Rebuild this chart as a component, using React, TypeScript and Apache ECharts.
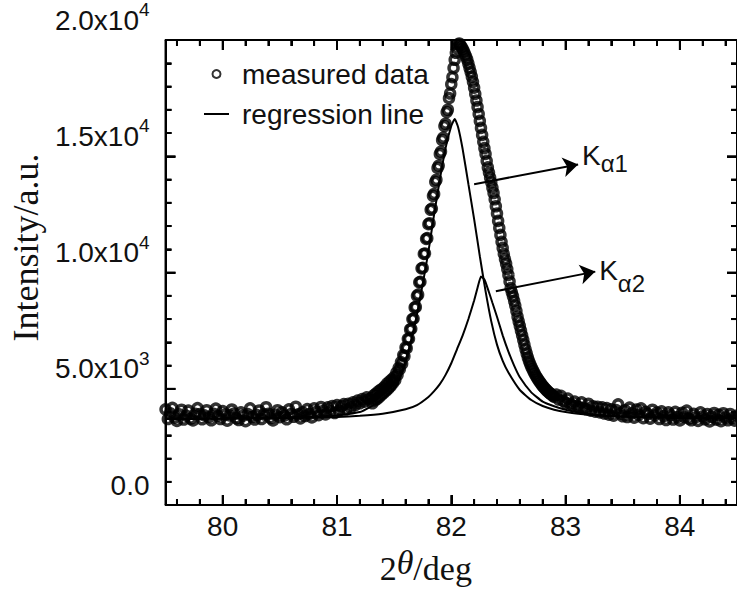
import React, { useEffect, useRef } from 'react';
import * as echarts from 'echarts';

// ---- measured data (sampled: left baseline 0.02 step, peak 0.01 step, right baseline 0.02 step)
const leftStart = 79.5;
const leftStep = 0.02;
const measuredLeft = [
  4120, 3700, 3950, 4180, 3760, 3620, 3900, 4100, 3680, 3850,
  4060, 3720, 3640, 3930, 4170, 3910, 3690, 3860, 4080, 3780,
  3650, 3930, 4150, 3840, 3700, 4040, 3890, 3630, 3860, 4110,
  3940, 3730, 3660, 3990, 3850, 3610, 3910, 4160, 3790, 3680,
  3870, 4070, 3700, 3900, 4210, 3930, 3740, 3640, 3890, 4080,
  3780, 3990, 3850, 3690, 4120, 3920, 3800, 4230, 3900, 3730,
  3990, 3830, 4130, 3920, 3770, 4160, 4010, 3870, 4220, 4050,
  3900, 4200, 4040, 4260, 3960, 4300, 4060, 4250, 4340, 4110,
  4360, 4200, 4420, 4300, 4490, 4380, 4560, 4450, 4630, 4540,
];
const peakStart = 81.3;
const peakStep = 0.01;
const measuredPeak = [
  4600, 4380, 4720, 4500, 4790, 4560, 4880, 4650, 4950, 4740,
  5020, 4830, 5110, 4920, 5230, 5010, 5320, 5120, 5400, 5250,
  5500, 5380, 5700, 5600, 5900, 5850, 6150, 6080, 6450, 6400,
  6780, 6750, 7150, 7150, 7550, 7580, 8000, 8020, 8500, 8520,
  9000, 9050, 9580, 9600, 10180, 10200, 10800, 10820, 11450, 11480,
  12080, 12120, 12700, 12750, 13300, 13380, 13900, 13990, 14500, 14600,
  15100, 15200, 15700, 15800, 16300, 16400, 16900, 17000, 17500, 17700,
  18100, 18400, 18800, 19150, 19450, 19650, 19800, 19850, 19780, 19700,
  19620, 19520, 19400, 19280, 19150, 18980, 18800, 18620, 18420, 18200,
  17950, 17680, 17400, 17120, 16820, 16520, 16220, 15920, 15620, 15350,
  15100, 14800, 14520, 14300, 14080, 13880, 13650, 13420, 13150, 12850,
  12540, 12220, 11920, 11620, 11320, 11060, 10800, 10580, 10380, 10150,
  9900, 9620, 9330, 9150, 8980, 8780, 8580, 8350, 8100, 7900,
  7700, 7500, 7300, 7100, 6900, 6700, 6520, 6350, 6200, 6070,
  5950, 5850, 5750, 5650, 5560, 5480, 5400, 5330, 5260, 5190,
  5120, 5070, 5010, 4960, 4910, 4860, 4820, 4780, 4740, 4700,
  4660,
];
const rightStart = 82.92;
const rightStep = 0.02;
const measuredRight = [
  4750, 4540, 4700, 4480, 4400, 4580, 4360, 4290, 4450, 4270,
  4200, 4420, 4180, 4120, 4360, 4060, 4250, 4020, 4230, 3990,
  4200, 3940, 4170, 3890, 4120, 3850, 4090, 4330, 3930, 3820,
  4080, 3790, 4190, 3950, 3760, 4110, 3880, 4160, 3740, 4010,
  3920, 3720, 4100, 3860, 3980, 3700, 4030, 3830, 3660, 3990,
  3860, 3680, 4010, 3790, 3640, 3970, 3780, 4060, 3720, 3650,
  3930, 3780, 3620, 3990, 3820, 3690, 3920, 3600, 3800, 3960,
  3680, 3880, 3610, 3950, 3770, 3650, 3920, 3740, 3630, 3850,
];

// ---- regression components
const ka1X = [79.5, 80.0, 80.5, 81.0, 81.2, 81.3, 81.4, 81.5, 81.55, 81.6, 81.65, 81.7, 81.75, 81.8, 81.85, 81.9, 81.95, 82.0, 82.03, 82.06, 82.1, 82.15, 82.2, 82.25, 82.3, 82.35, 82.4, 82.45, 82.5, 82.6, 82.7, 82.8, 82.9, 83.0, 83.2, 83.5, 84.0, 84.5];
const ka1Y = [3720, 3730, 3760, 3850, 4000, 4250, 4550, 5000, 5450, 6200, 7100, 8200, 9500, 10900, 12500, 14000, 15350, 16300, 16600, 16250, 15300, 13800, 12300, 10700, 9200, 7900, 6900, 6200, 5700, 4950, 4520, 4260, 4100, 4000, 3880, 3800, 3750, 3730];
const ka2X = [79.5, 80.0, 80.5, 81.0, 81.2, 81.4, 81.6, 81.7, 81.8, 81.85, 81.9, 81.95, 82.0, 82.05, 82.1, 82.15, 82.2, 82.23, 82.26, 82.29, 82.32, 82.36, 82.4, 82.45, 82.5, 82.55, 82.6, 82.7, 82.8, 82.9, 83.0, 83.2, 83.5, 84.0, 84.5];
const ka2Y = [3700, 3710, 3730, 3790, 3840, 3930, 4120, 4300, 4650, 4900, 5200, 5600, 6100, 6700, 7300, 8000, 8800, 9350, 9830, 9700, 9300, 8700, 8100, 7300, 6600, 6000, 5500, 4850, 4450, 4250, 4100, 3920, 3820, 3760, 3740];

// ---- annotation arrows (data coordinates)
const arrowFrom = [[82.2, 13800], [82.39, 9200]];
const arrowTo = [[83.11, 14650], [83.26, 10040]];
const arrowSub = ['α1', 'α2'];

// ---- axes
const xMin = 79.5;
const xMax = 84.5;
const yMin = 0;
const yMax = 20000;
const xMajorTicks = [80, 81, 82, 83, 84];
const yTickValues = [0, 5000, 10000, 15000, 20000];
const yTickMantissa = ['0.0', '5.0x10', '1.0x10', '1.5x10', '2.0x10'];
const yTickExponent = ['', '3', '4', '4', '4'];
const xMinorStep = 0.2;
const yMinorStep = 1000;

const SANS = '"Liberation Sans", Arial, sans-serif';
const SERIF = '"Liberation Serif", "Times New Roman", serif';
const INK = '#111';

function toPairs(start: number, step: number, vals: number[]) {
  return vals.map((v, i) => [Math.round((start + i * step) * 100) / 100, v]);
}

const mkLine = () => ({ show: true, onZero: false, lineStyle: { color: '#000', width: 2 } });
const mkTick = () => ({ show: true, inside: true, length: 10, lineStyle: { color: '#000', width: 2 } });
const mkMinor = () => ({ show: true, splitNumber: 5, length: 6, lineStyle: { color: '#000', width: 2 } });

export default function App() {
  const ref = useRef<HTMLDivElement>(null);
  useEffect(() => {
    if (!ref.current) return;
    const chart = echarts.init(ref.current, null, { renderer: 'svg' });
    const measured = [
      ...toPairs(leftStart, leftStep, measuredLeft),
      ...toPairs(peakStart, peakStep, measuredPeak),
      ...toPairs(rightStart, rightStep, measuredRight),
    ];
    const ka1 = ka1X.map((x, i) => [x, ka1Y[i]]);
    const ka2 = ka2X.map((x, i) => [x, ka2Y[i]]);

    // tick positions for the boxed frame (values on the axes' scales)
    const xTicks: number[][] = [];
    for (let k = Math.ceil(xMin / xMinorStep + 1e-6); k * xMinorStep < xMax - 1e-6; k++) {
      const v = Math.round(k * xMinorStep * 100) / 100;
      xTicks.push([v, xMajorTicks.indexOf(v) >= 0 ? 10 : 6]);
    }
    const yTicks: number[][] = [];
    for (let v = yMin + yMinorStep; v < yMax; v += yMinorStep) {
      yTicks.push([v, yTickValues.indexOf(v) >= 0 ? 10 : 6]);
    }

    chart.setOption({
      animation: false,
      backgroundColor: '#fff',
      grid: { left: 164, top: 33, width: 577, height: 482 },
      legend: {
        data: [
          { name: 'measured data', icon: 'circle' },
          { name: 'regression line', itemStyle: { opacity: 0 } },
        ],
        orient: 'vertical',
        left: 198,
        top: 55,
        itemWidth: 25,
        itemHeight: 8,
        itemGap: 12,
        selectedMode: false,
        textStyle: { fontSize: 28, fontFamily: SANS, color: INK, padding: [0, 0, 0, 8] },
      },
      xAxis: [
        {
          type: 'value', min: xMin, max: xMax, splitNumber: 5, position: 'bottom',
          axisLine: mkLine(), axisTick: mkTick(), minorTick: mkMinor(), splitLine: { show: false },
          axisLabel: { show: true, fontSize: 28, fontFamily: SANS, color: INK, margin: 7, showMinLabel: false, showMaxLabel: false },
          name: '{n|2}{t|θ}{n|/deg}',
          nameLocation: 'middle',
          nameGap: 28,
          nameTextStyle: {
            padding: [0, 51, 0, 0],
            rich: {
              n: { fontSize: 34, lineHeight: 46, fontFamily: SERIF, color: INK },
              t: { fontSize: 34, lineHeight: 34, fontFamily: SERIF, fontStyle: 'italic', color: INK, verticalAlign: 'top' },
            },
          },
        },
        {
          type: 'value', min: xMin, max: xMax, splitNumber: 5, position: 'top',
          axisLine: mkLine(), axisTick: mkTick(), minorTick: mkMinor(), splitLine: { show: false },
          axisLabel: { show: false },
        },
      ],
      yAxis: [
        {
          type: 'value', min: yMin, max: yMax, interval: 5000, position: 'left',
          axisLine: mkLine(), axisTick: mkTick(), minorTick: mkMinor(), splitLine: { show: false },
          axisLabel: {
            margin: 16,
            verticalAlign: 'bottom',
            formatter: (v: number) => {
              const i = yTickValues.indexOf(v);
              if (i < 0) return '';
              return yTickExponent[i] ? `{m|${yTickMantissa[i]}}{s|${yTickExponent[i]}}` : `{m|${yTickMantissa[i]}}`;
            },
            rich: {
              m: { fontSize: 28, lineHeight: 40, fontFamily: SANS, color: INK },
              s: { fontSize: 19, lineHeight: 19, fontFamily: SANS, color: INK, verticalAlign: 'top' },
            },
          },
          name: 'Intensity/a.u.',
          nameLocation: 'middle',
          nameGap: 112,
          nameTextStyle: { fontSize: 36, fontFamily: SERIF, color: INK, padding: [0, 0, 0, 50] },
        },
        {
          type: 'value', min: yMin, max: yMax, interval: 5000, position: 'right',
          axisLine: mkLine(), axisTick: mkTick(), minorTick: mkMinor(), splitLine: { show: false },
          axisLabel: { show: false },
        },
      ],
      series: [
        {
          name: 'measured data',
          type: 'scatter',
          data: measured,
          symbol: 'circle',
          symbolSize: 9,
          itemStyle: { color: 'rgba(0,0,0,0)', borderColor: '#000', borderWidth: 3.5 },
        },
        {
          name: 'regression line',
          type: 'line',
          data: ka1,
          symbol: 'none',
          smooth: 0.15,
          itemStyle: { color: '#000' },
          lineStyle: { color: '#000', width: 2 },
          markLine: {
            silent: true,
            symbol: ['none', 'arrow'],
            symbolSize: 15,
            lineStyle: { color: '#000', width: 2, type: 'solid' },
            label: {
              show: true,
              position: 'end',
              distance: 4,
              formatter: (p: any) => `{k${p.dataIndex}|K}{s${p.dataIndex}|${p.name}}`,
              rich: {
                k0: { fontSize: 28, lineHeight: 28, fontFamily: SANS, color: INK, verticalAlign: 'top' },
                s0: { fontSize: 24, lineHeight: 44, fontFamily: SANS, color: INK },
                k1: { fontSize: 28, lineHeight: 49, fontFamily: SANS, color: INK },
                s1: { fontSize: 24, lineHeight: 24, fontFamily: SANS, color: INK, verticalAlign: 'bottom' },
              },
            },
            data: arrowFrom.map((f, i) => [
              { name: arrowSub[i], coord: f },
              { coord: arrowTo[i] },
            ]),
          },
        },
        {
          name: 'regression line',
          type: 'line',
          data: ka2,
          symbol: 'none',
          smooth: 0.15,
          itemStyle: { color: '#000' },
          lineStyle: { color: '#000', width: 2 },
        },
        {
          name: 'frame',
          type: 'custom',
          silent: true,
          clip: false,
          z: 10,
          data: [[xMin, yMin]],
          renderItem: (_params: any, api: any) => {
            const c = (x: number, y: number) => api.coord([x, y]);
            const seg = (a: number[], b: number[]) => ({
              type: 'line',
              shape: { x1: a[0], y1: a[1], x2: b[0], y2: b[1] },
              style: { stroke: '#000', lineWidth: 2 },
            });
            const bl = c(xMin, yMin);
            const tr = c(xMax, yMax);
            const kids: any[] = [
              seg([bl[0], tr[1]], [tr[0], tr[1]]),
              seg([tr[0], bl[1]], [tr[0], tr[1]]),
              seg([bl[0], bl[1]], [tr[0], bl[1]]),
              seg([bl[0], bl[1]], [bl[0], tr[1]]),
            ];
            xTicks.forEach(([x, len]) => {
              const px = c(x, yMin)[0];
              kids.push(seg([px, bl[1]], [px, bl[1] - len]));
              kids.push(seg([px, tr[1]], [px, tr[1] + len]));
            });
            yTicks.forEach(([y, len]) => {
              const py = c(xMin, y)[1];
              kids.push(seg([bl[0], py], [bl[0] + len, py]));
              kids.push(seg([tr[0], py], [tr[0] - len, py]));
            });
            return { type: 'group', children: kids };
          },
        },
      ],
    });
    return () => chart.dispose();
  }, []);
  return <div ref={ref} style={{ position: 'fixed', left: 0, top: 0, width: 737, height: 590 }} />;
}
